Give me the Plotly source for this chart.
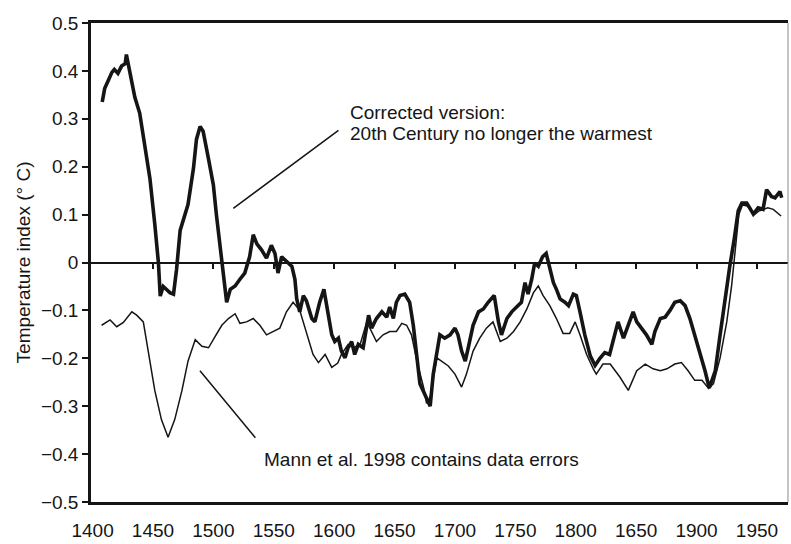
import plotly.graph_objects as go

# Corrected reconstruction (thick line)
years_corrected = [
    1408, 1410, 1413, 1416, 1418, 1421, 1424, 1427, 1428, 1432, 1435, 1439, 1443, 1447.5,
    1451.5, 1454.5, 1456, 1458.5, 1461, 1464, 1467, 1469.5, 1472.5, 1475, 1479, 1483.5,
    1486, 1489, 1491.5, 1496, 1500, 1502.5, 1505.5, 1508, 1511, 1514, 1518, 1522, 1526,
    1530, 1533, 1536, 1540, 1544, 1548, 1551, 1553.5, 1556.5, 1560.5, 1565, 1567.5, 1569,
    1571.5, 1574.5, 1577, 1581.5, 1584, 1588, 1591.5, 1595, 1598, 1600.5, 1603.5, 1606,
    1609, 1611.5, 1614.5, 1617, 1620, 1624, 1628.5, 1631, 1635, 1639.5, 1643.5, 1646,
    1649, 1651.5, 1654.5, 1658.5, 1662.5, 1665.5, 1668.5, 1671, 1675, 1679.5, 1682, 1685,
    1687.5, 1691.5, 1696, 1700, 1702.5, 1705.5, 1708.5, 1711, 1715, 1719.5, 1723.5,
    1727.5, 1732.5, 1736, 1738.5, 1743, 1747, 1751, 1755, 1758, 1760.5, 1763.5, 1766,
    1769, 1772.5, 1775.5, 1778.5, 1781.5, 1784, 1787, 1791, 1794, 1798, 1800.5, 1803.5,
    1807.5, 1812, 1816, 1820, 1824, 1828, 1832.5, 1835, 1839.5, 1843.5, 1847.5, 1850.5,
    1854.5, 1858.5, 1863, 1865.5, 1870, 1874, 1878, 1882, 1886.5, 1890.5, 1894.5, 1898.5,
    1903, 1907, 1910.5, 1915.5, 1919.5, 1923.5, 1927.5, 1931, 1934.5, 1937.5, 1941.5,
    1944, 1947, 1951, 1955, 1958, 1962, 1965, 1969, 1970.5,
]
temp_corrected = [
    0.335, 0.363, 0.38, 0.397, 0.403, 0.395, 0.41, 0.415, 0.434, 0.386, 0.345, 0.312, 0.25, 0.175,
    0.08, 0.0, -0.07, -0.05, -0.056, -0.063, -0.066, -0.015, 0.067, 0.087, 0.121, 0.196,
    0.257, 0.284, 0.274, 0.216, 0.162, 0.1, 0.039, -0.022, -0.083, -0.056, -0.049, -0.035, -0.022,
    0.012, 0.058, 0.039, 0.026, 0.009, 0.036, 0.019, -0.022, 0.012, 0.002, -0.008, -0.035, -0.076,
    -0.103, -0.069, -0.08, -0.117, -0.124, -0.083, -0.056, -0.103, -0.151, -0.165, -0.158, -0.185,
    -0.199, -0.178, -0.165, -0.192, -0.171, -0.178, -0.11, -0.137, -0.117, -0.103, -0.114, -0.093,
    -0.117, -0.083, -0.069, -0.066, -0.083, -0.131, -0.206, -0.253, -0.275, -0.3, -0.233, -0.185,
    -0.151, -0.158, -0.151, -0.137, -0.151, -0.185, -0.206, -0.178, -0.131, -0.103, -0.097,
    -0.083, -0.069, -0.124, -0.151, -0.117, -0.103, -0.093, -0.083, -0.042, -0.066, -0.035, -0.001,
    -0.008, 0.012, 0.019, -0.015, -0.042, -0.056, -0.076, -0.083, -0.09, -0.066, -0.069, -0.103,
    -0.151, -0.195, -0.215, -0.2, -0.188, -0.192, -0.151, -0.124, -0.158, -0.131, -0.103, -0.124,
    -0.137, -0.151, -0.171, -0.144, -0.117, -0.114, -0.1, -0.083, -0.08, -0.09, -0.117, -0.151,
    -0.192, -0.226, -0.262, -0.226, -0.151, -0.076, -0.008, 0.046, 0.108, 0.124, 0.124,
    0.114, 0.101, 0.114, 0.111, 0.152, 0.138, 0.135, 0.148, 0.135,
]

# Mann et al. 1998 reconstruction (thin line)
years_mann = [
    1407.5, 1414.5, 1420, 1425.5, 1432.5, 1436.5, 1442, 1446, 1451.5, 1457, 1462.5, 1468,
    1474, 1479, 1485, 1490.5, 1496, 1501.5, 1507, 1512.5, 1518, 1522, 1527.5, 1533, 1538.5,
    1544, 1549.5, 1555, 1560.5, 1566, 1571.5, 1577, 1582.5, 1587, 1592.5, 1598, 1603, 1606,
    1611.5, 1616, 1621.5, 1627, 1631, 1635, 1640.5, 1646, 1651.5, 1656, 1660, 1664, 1668.5,
    1674, 1676.5, 1679.5, 1685, 1689, 1694.5, 1700, 1705.5, 1709.5, 1715, 1720.5, 1726,
    1731.5, 1737.5, 1743, 1748.5, 1754, 1759.5, 1765, 1769, 1773, 1778.5, 1784, 1789.5,
    1795, 1799.5, 1803.5, 1809, 1814.5, 1817, 1822.5, 1828.5, 1836.5, 1843.5, 1850.5,
    1857.5, 1864, 1870, 1875.5, 1882, 1887.5, 1893, 1898.5, 1904.5, 1910, 1914, 1919.5,
    1925, 1929, 1932, 1935, 1938, 1942, 1945, 1948, 1952, 1956, 1959, 1963.5, 1966.5, 1970,
]
temp_mann = [
    -0.131, -0.12, -0.134, -0.125, -0.103, -0.11, -0.124, -0.185, -0.267, -0.328, -0.365, -0.328,
    -0.267, -0.206, -0.161, -0.175, -0.178, -0.154, -0.131, -0.117, -0.107, -0.127, -0.124, -0.117, -0.131,
    -0.151, -0.144, -0.137, -0.103, -0.083, -0.1, -0.144, -0.192, -0.209, -0.192, -0.219, -0.21, -0.192,
    -0.171, -0.178, -0.171, -0.124, -0.144, -0.165, -0.151, -0.144, -0.144, -0.127, -0.131, -0.151, -0.206,
    -0.26, -0.294, -0.28, -0.199, -0.206, -0.216, -0.233, -0.26, -0.233, -0.185, -0.158, -0.137,
    -0.124, -0.165, -0.158, -0.144, -0.124, -0.097, -0.063, -0.049, -0.069, -0.09, -0.117, -0.148,
    -0.148, -0.124, -0.151, -0.192, -0.222, -0.233, -0.212, -0.212, -0.239, -0.267, -0.226,
    -0.212, -0.222, -0.226, -0.222, -0.212, -0.209, -0.226, -0.246, -0.246, -0.263, -0.253, -0.199,
    -0.124, -0.049, 0.03, 0.1, 0.12, 0.118, 0.108, 0.1, 0.108, 0.111, 0.114, 0.111, 0.105, 0.097,
]

# Axis ticks
x_tickvals = [1400, 1450, 1500, 1550, 1600, 1650, 1700, 1750, 1800, 1850, 1900, 1950]
x_ticktext = ["1400", "1450", "1500", "1550", "1600", "1650", "1700", "1750", "1800", "1650", "1900", "1950"]
y_tickvals = [0.5, 0.4, 0.3, 0.2, 0.1, 0, -0.1, -0.2, -0.3, -0.4, -0.5]
y_ticktext = ["0.5", "0.4", "0.3", "0.2", "0.1", "0",
              "\u22120.1", "\u22120.2", "\u22120.3", "\u22120.4", "\u22120.5"]

x_range = [1398.7, 1975.7]
ink = "#151515"
font_family = "Liberation Sans, Arial, sans-serif"
fs = 19

fig = go.Figure()
fig.add_trace(go.Scatter(
    x=years_mann, y=temp_mann, mode="lines", xaxis="x2", yaxis="y",
    line=dict(color=ink, width=1.5), showlegend=False, hoverinfo="skip",
))
fig.add_trace(go.Scatter(
    x=years_corrected, y=temp_corrected, mode="lines",
    line=dict(color=ink, width=3.6), showlegend=False, hoverinfo="skip",
))

annotations = [
    dict(x=1516.5, y=0.113, ax=1604.8, ay=0.278, xref="x", yref="y", axref="x", ayref="y",
         text="", showarrow=True, arrowhead=0, arrowwidth=1.5, arrowcolor=ink),
    dict(x=1488.9, y=-0.226, ax=1535.8, ay=-0.369, xref="x", yref="y", axref="x", ayref="y",
         text="", showarrow=True, arrowhead=0, arrowwidth=1.5, arrowcolor=ink),
    dict(x=1611.5, y=0.313, xref="x", yref="y", text="Corrected version:", showarrow=False,
         xanchor="left", yanchor="middle", font=dict(size=fs, color=ink, family=font_family)),
    dict(x=1611.5, y=0.270, xref="x", yref="y", text="20th Century no longer the warmest",
         showarrow=False, xanchor="left", yanchor="middle",
         font=dict(size=fs, color=ink, family=font_family)),
    dict(x=1540.5, y=-0.411, xref="x", yref="y", text="Mann et al. 1998 contains data errors",
         showarrow=False, xanchor="left", yanchor="middle",
         font=dict(size=fs, color=ink, family=font_family)),
]

fig.update_layout(
    width=791, height=544,
    margin=dict(l=91, r=3, t=23, b=30),
    paper_bgcolor="white", plot_bgcolor="white",
    font=dict(family=font_family, size=fs, color=ink),
    annotations=annotations,
    xaxis=dict(
        range=x_range, tickvals=x_tickvals, ticktext=x_ticktext,
        showline=True, linecolor=ink, linewidth=2.5, mirror=True,
        ticks="", showgrid=False, zeroline=False, ticklabelstandoff=9,
    ),
    xaxis2=dict(
        range=x_range, overlaying="x", anchor="free", position=0.5, side="bottom",
        tickvals=x_tickvals[1:], showticklabels=False,
        showline=True, linecolor=ink, linewidth=1.5,
        ticks="outside", ticklen=6, tickwidth=1.5, tickcolor=ink,
        showgrid=False, zeroline=False,
    ),
    yaxis=dict(
        range=[-0.5, 0.5], tickvals=y_tickvals, ticktext=y_ticktext,
        showline=True, linecolor=ink, linewidth=2.5,
        ticks="outside", ticklen=6, tickwidth=1.5, tickcolor=ink,
        showgrid=False, zeroline=False, ticklabelstandoff=0,
        title=dict(text="Temperature index (° C)", standoff=6,
                   font=dict(size=fs, color=ink, family=font_family)),
    ),
    shapes=[dict(type="line", xref="paper", yref="paper", x0=1, x1=1, y0=0, y1=1,
                 line=dict(color="#8a8a8a", width=1))],
)

fig.write_html("out.html")
